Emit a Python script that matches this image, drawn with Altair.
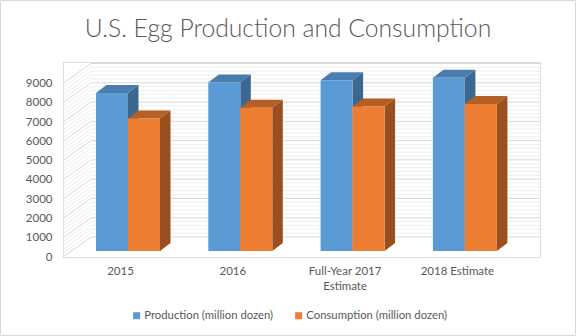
import altair as alt
import pandas as pd

# ---------------- data ----------------
categories = ["2015", "2016", "Full-Year 2017\nEstimate", "2018 Estimate"]
production = [8200, 8740, 8860, 8980]
consumption = [6870, 7430, 7500, 7620]
series_names = ["Production (million dozen)", "Consumption (million dozen)"]
y_ticks = [0, 1000, 2000, 3000, 4000, 5000, 6000, 7000, 8000, 9000]
title_text = "U.S. Egg Production and Consumption"

# ---------------- style ----------------
front_colors = ["#5B9BD5", "#ED7D31"]
top_colors = ["#4A7DAD", "#B65F25"]
side_colors = ["#3C6890", "#9A501E"]
text_color = "#595959"
FONT = "Lato"

# geometry helpers (convert pixel sizes to scale units)
PX_PER_CAT = 112.3
PX_PER_VAL = 0.01928


def cx(px):
    return px / PX_PER_CAT


def vy(px):
    return px / PX_PER_VAL


W, H = 477, 195
X0 = -cx(57)
X1 = X0 + cx(W)
Y1 = vy(H)
WALL_DX, WALL_DY = cx(28), vy(20)
BAR_W = cx(32)
BASE_DX, BASE_DY = cx(8), vy(6)
DEPTH_DX, DEPTH_DY = cx(10.5), vy(8)

# ---------------- tables built from the data ----------------
fronts, sides, tops = [], [], []
for s, (name, vals) in enumerate(zip(series_names, [production, consumption])):
    for i, v in enumerate(vals):
        left = i + BASE_DX - BAR_W + s * BAR_W
        right = left + BAR_W
        base = BASE_DY
        top = BASE_DY + v
        bid = f"{s}-{i}"
        fronts.append(dict(series=name, x=left, x2=right, y=base, y2=top))
        sides += [
            dict(s=s, bid=bid, x=right, y=base, y2=top),
            dict(s=s, bid=bid, x=right + DEPTH_DX, y=base + DEPTH_DY, y2=top + DEPTH_DY),
        ]
        tops += [
            dict(s=s, bid=bid, x=left, y=top, y2=top),
            dict(s=s, bid=bid, x=left + DEPTH_DX, y=top, y2=top + DEPTH_DY),
            dict(s=s, bid=bid, x=right, y=top, y2=top + DEPTH_DY),
            dict(s=s, bid=bid, x=right + DEPTH_DX, y=top + DEPTH_DY, y2=top + DEPTH_DY),
        ]
fronts = pd.DataFrame(fronts)
sides = pd.DataFrame(sides)
tops = pd.DataFrame(tops)

grid = []
for v in range(0, y_ticks[-1] + 1, 200):
    major = v % 1000 == 0
    grid.append(dict(major=major, x=X0, x2=X0 + WALL_DX, y=v, y2=v + WALL_DY))
    grid.append(dict(major=major, x=X0 + WALL_DX, x2=X1, y=v + WALL_DY, y2=v + WALL_DY))
grid = pd.DataFrame(grid)

# ---------------- encodings ----------------
label_expr = "split([" + ",".join(
    "'" + c.replace("\n", "|") + "'" for c in categories
) + "][datum.value], '|')"

xs = alt.Scale(domain=[X0, X1], nice=False, zero=False)
ys = alt.Scale(domain=[0, Y1], nice=False, zero=False)
X = alt.X("x:Q", scale=xs, axis=alt.Axis(
    values=list(range(len(categories))), labelExpr=label_expr, title=None,
    domain=False, ticks=False, tickSize=0, grid=False, labelPadding=8,
    labelLineHeight=15, labelAngle=0, labelAlign="center", labelOverlap=False,
    labelFont=FONT, labelFontSize=11.5, labelColor=text_color))
Y = alt.Y("y:Q", scale=ys, stack=None, axis=alt.Axis(
    values=y_ticks, format="d", title=None, domain=False, ticks=False, tickSize=0,
    grid=False, labelPadding=11, labelFont=FONT, labelFontSize=11.5,
    labelColor=text_color))

minor = alt.Chart(grid[~grid.major]).mark_rule(color="#EFEFEF", strokeWidth=1).encode(
    x=X, x2="x2:Q", y=Y, y2="y2:Q")
major = alt.Chart(grid[grid.major]).mark_rule(color="#D9D9D9", strokeWidth=1).encode(
    x=X, x2="x2:Q", y=Y, y2="y2:Q")

layers = [minor, major]
for s in range(len(series_names)):
    layers.append(alt.Chart(sides[sides.s == s]).mark_area(
        color=side_colors[s], interpolate="linear").encode(
        x=X, y=Y, y2="y2:Q", detail="bid:N"))
    layers.append(alt.Chart(tops[tops.s == s]).mark_area(
        color=top_colors[s], interpolate="linear").encode(
        x=X, y=Y, y2="y2:Q", detail="bid:N"))

front = alt.Chart(fronts).mark_rect().encode(
    x=X, x2="x2:Q", y=Y, y2="y2:Q",
    color=alt.Color("series:N",
                    scale=alt.Scale(domain=series_names, range=front_colors),
                    legend=alt.Legend(title=None, orient="none", direction="horizontal",
                                      legendX=68, legendY=248, symbolType="square",
                                      symbolSize=49, symbolStrokeWidth=0,
                                      labelOffset=2, columnPadding=19, padding=0,
                                      labelFont=FONT, labelFontSize=11.3,
                                      labelColor=text_color)))
layers.append(front)

frame = alt.Chart(pd.DataFrame({"k": [0]})).mark_rect(
    filled=False, stroke="#D9D9D9", strokeWidth=1).encode(
    x=alt.value(-62.5), x2=alt.value(576 - 63 - 0.5),
    y=alt.value(-61.5), y2=alt.value(336 - 62 - 0.5))
layers.append(frame)

chart = alt.layer(*layers).properties(
    width=W, height=H,
    title=alt.Title(title_text, fontSize=24.7, font=FONT, fontWeight=300,
                    color=text_color, anchor="middle", dx=-13.5,
                    baseline="alphabetic", offset=-62),
    autosize=alt.AutoSizeParams(type="none"),
    padding={"left": 63, "top": 62, "right": 36, "bottom": 79},
).configure_view(stroke=None).configure(background="white")

chart.save("out.html", embed_options={"renderer": "svg", "actions": False})
